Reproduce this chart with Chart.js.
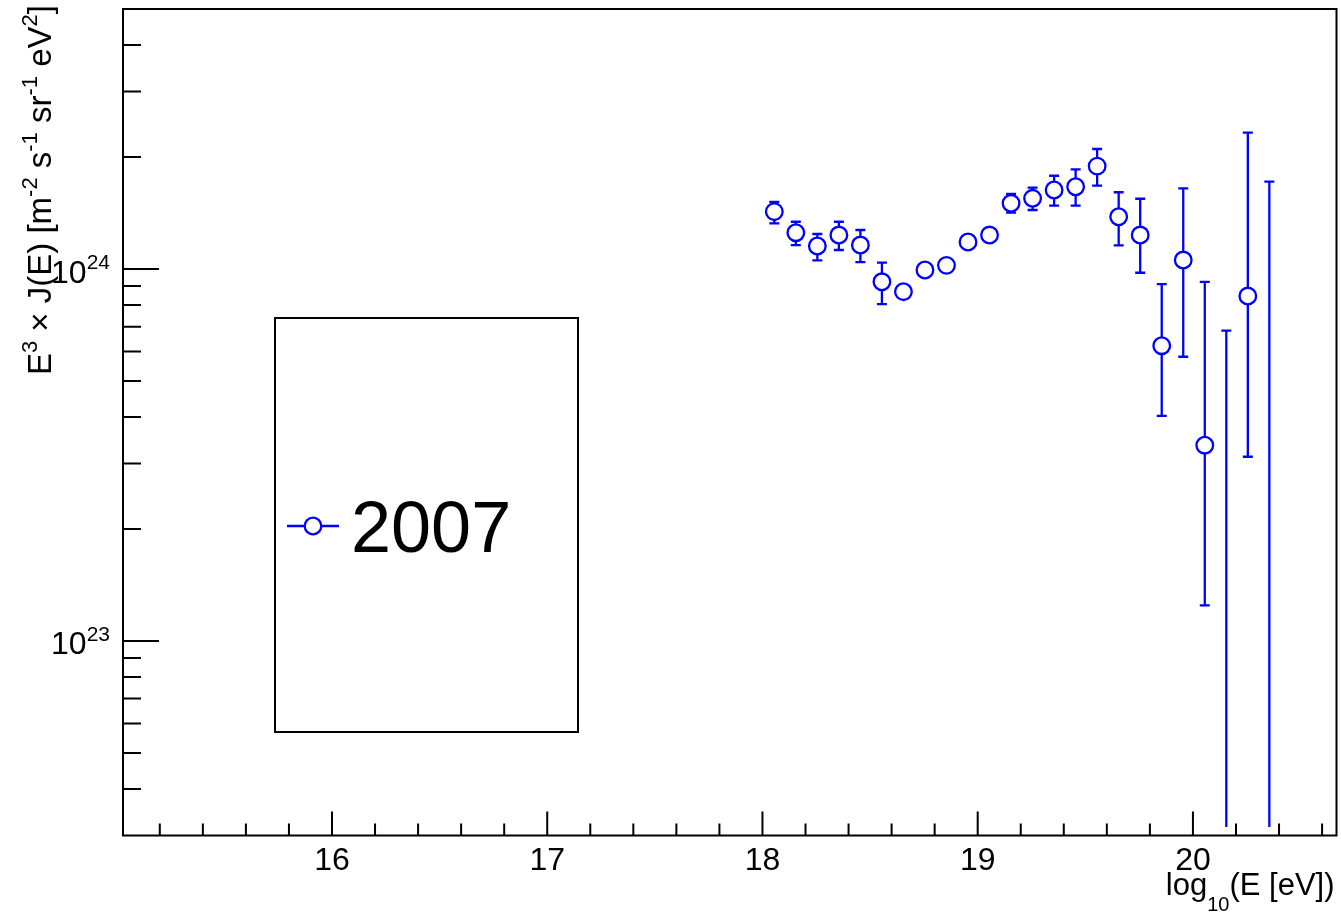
<!DOCTYPE html>
<html lang="en">
<head>
    <meta charset="UTF-8">
    <title>E^3 J(E) spectrum 2007</title>
    <script src="https://cdn.jsdelivr.net/npm/chart.js"></script>
    <style>
        html, body {
            margin: 0;
            padding: 0;
            background-color: #ffffff;
        }
        canvas {
            display: block;
        }
    </style>
</head>
<body>
    <canvas id="spectrumChart" width="1341" height="915"></canvas>
    <script>
        // bin centres, log10(E [eV])
        const logE = [18.055, 18.155, 18.255, 18.355, 18.455, 18.555, 18.655, 18.755,
                      18.855, 18.955, 19.055, 19.155, 19.255, 19.355, 19.455, 19.555,
                      19.655, 19.755, 19.855, 19.955, 20.055, 20.155, 20.255, 20.355];
        // E^3 J(E), null = no measured value (only the upper error bar shows)
        const flux = [1.426e24, 1.252e24, 1.153e24, 1.234e24, 1.160e24, 0.924e24, 0.869e24, 0.994e24,
                      1.023e24, 1.182e24, 1.234e24, 1.502e24, 1.549e24, 1.631e24, 1.664e24, 1.891e24,
                      1.382e24, 1.234e24, 0.622e24, 1.057e24, 0.336e24, null, 0.846e24, null];
        const fluxHi = [1.516e24, 1.340e24, 1.242e24, 1.340e24, 1.273e24, 1.040e24, 0.895e24, 1.024e24,
                        1.054e24, 1.217e24, 1.271e24, 1.591e24, 1.654e24, 1.781e24, 1.853e24, 2.102e24,
                        1.608e24, 1.545e24, 0.911e24, 1.648e24, 0.924e24, 0.683e24, 2.325e24, 1.717e24];
        const fluxLo = [1.327e24, 1.160e24, 1.055e24, 1.125e24, 1.044e24, 0.805e24, 0.843e24, 0.964e24,
                        0.992e24, 1.147e24, 1.197e24, 1.417e24, 1.441e24, 1.480e24, 1.480e24, 1.675e24,
                        1.158e24, 0.977e24, 0.403e24, 0.581e24, 0.1247e24, 3.16e22, 0.3128e24, 3.16e22];
        const seriesLabel = '2007';
        const xLabels = [16, 17, 18, 19, 20];
        const yDecades = [23, 24];

        const FONT = '"Liberation Sans", Arial, Helvetica, sans-serif';
        const BLUE = '#0000ff';

        // text pieces with superscripts (1) / subscripts (-1)
        function richWidth(ctx, parts, size) {
            let w = 0;
            parts.forEach(p => {
                ctx.font = (p[1] ? Math.round(size * 0.66) : size) + 'px ' + FONT;
                w += ctx.measureText(p[0]).width;
            });
            return w;
        }
        function drawRich(ctx, parts, x, y, size) {
            parts.forEach(p => {
                const s = p[1] ? Math.round(size * 0.66) : size;
                ctx.font = s + 'px ' + FONT;
                const dy = p[1] === 1 ? -size * 0.42 : (p[1] === -1 ? size * 0.5 : 0);
                ctx.fillText(p[0], x, y + dy);
                x += ctx.measureText(p[0]).width;
            });
        }

        const errorBars = {
            id: 'errorBars',
            beforeDatasetsDraw(chart) {
                const { ctx, chartArea: a, scales: { x, y } } = chart;
                ctx.save();
                ctx.beginPath();
                ctx.rect(a.left, a.top, a.right - a.left, a.bottom - a.top);
                ctx.clip();
                ctx.strokeStyle = BLUE;
                ctx.lineWidth = 2.3;
                logE.forEach((e, i) => {
                    const px = x.getPixelForValue(e);
                    const yh = y.getPixelForValue(fluxHi[i]);
                    const yl = y.getPixelForValue(fluxLo[i]);
                    ctx.beginPath();
                    ctx.moveTo(px, yh);
                    ctx.lineTo(px, yl);
                    ctx.moveTo(px - 5, yh);
                    ctx.lineTo(px + 5, yh);
                    if (flux[i] !== null) {
                        ctx.moveTo(px - 5, yl);
                        ctx.lineTo(px + 5, yl);
                    }
                    ctx.stroke();
                });
                ctx.restore();
            }
        };

        const rootFrame = {
            id: 'rootFrame',
            afterDatasetsDraw(chart) {
                const { ctx, chartArea: a, scales: { x, y } } = chart;
                ctx.save();
                ctx.strokeStyle = '#000';
                ctx.fillStyle = '#000';
                ctx.lineWidth = 2;
                ctx.strokeRect(a.left, a.top, a.right - a.left, a.bottom - a.top);

                // x ticks every 0.2, inward
                ctx.beginPath();
                for (let k = Math.ceil(x.min * 5); k <= Math.floor(x.max * 5); k++) {
                    const px = x.getPixelForValue(k / 5);
                    ctx.moveTo(px, a.bottom);
                    ctx.lineTo(px, a.bottom - (k % 5 === 0 ? 24 : 12));
                }
                // y log ticks
                for (let d = 22; d <= 24; d++) {
                    for (let m = 1; m <= 9; m++) {
                        const py = y.getPixelForValue(m * Math.pow(10, d));
                        if (py < a.top + 1 || py > a.bottom - 1) continue;
                        ctx.moveTo(a.left, py);
                        ctx.lineTo(a.left + (m === 1 ? 36 : 18), py);
                    }
                }
                ctx.stroke();

                // x labels
                ctx.font = '32px ' + FONT;
                ctx.textAlign = 'center';
                ctx.textBaseline = 'alphabetic';
                xLabels.forEach(v => {
                    ctx.fillText(String(v), x.getPixelForValue(v), 870);
                });

                // y labels 10^n
                ctx.textAlign = 'left';
                yDecades.forEach(d => {
                    const parts = [['10', 0], [String(d), 1]];
                    const w = richWidth(ctx, parts, 32);
                    const py = y.getPixelForValue(Math.pow(10, d));
                    drawRich(ctx, parts, 110 - w, py + 13.5, 32);
                });

                // x title
                const xt = [['log', 0], ['10', -1], ['(E [eV])', 0]];
                const xw = richWidth(ctx, xt, 31);
                drawRich(ctx, xt, a.right - xw - 2, 895, 31);

                // y title (rotated)
                const yt = [['E', 0], ['3', 1], [' \u00d7 J(E) [m', 0], ['-2', 1], [' s', 0], ['-1', 1],
                            [' sr', 0], ['-1', 1], [' eV', 0], ['2', 1], [']', 0]];
                const yw = richWidth(ctx, yt, 33);
                ctx.translate(51, 5);
                ctx.rotate(-Math.PI / 2);
                drawRich(ctx, yt, -yw, 0, 33);
                ctx.setTransform(1, 0, 0, 1, 0, 0);

                // legend box
                const ds = chart.data.datasets[0];
                ctx.lineWidth = 2;
                ctx.strokeStyle = '#000';
                ctx.strokeRect(275, 318, 303, 414);
                ctx.strokeStyle = ds.borderColor;
                ctx.lineWidth = 2.3;
                ctx.beginPath();
                ctx.moveTo(287, 526);
                ctx.lineTo(339, 526);
                ctx.stroke();
                ctx.beginPath();
                ctx.arc(313, 526, ds.pointRadius, 0, Math.PI * 2);
                ctx.fillStyle = '#fff';
                ctx.fill();
                ctx.stroke();
                ctx.fillStyle = '#000';
                ctx.font = '72px ' + FONT;
                ctx.textAlign = 'left';
                ctx.fillText(ds.label, 351, 552);
                ctx.restore();
            }
        };

        new Chart(document.getElementById('spectrumChart').getContext('2d'), {
            type: 'scatter',
            data: {
                datasets: [{
                    label: seriesLabel,
                    data: logE.map((e, i) => ({ x: e, y: flux[i] })),
                    borderColor: BLUE,
                    backgroundColor: '#ffffff',
                    pointRadius: 8.3,
                    pointHoverRadius: 8.3,
                    pointBorderWidth: 2.3,
                    showLine: false
                }]
            },
            options: {
                responsive: false,
                animation: false,
                events: [],
                layout: { autoPadding: false, padding: { left: 123, top: 9, right: 4.5, bottom: 79.5 } },
                plugins: {
                    legend: { display: false },
                    tooltip: { enabled: false }
                },
                scales: {
                    x: { type: 'linear', min: 15.029, max: 20.667, display: false },
                    y: { type: 'logarithmic', min: 3e22, max: 5e24, display: false }
                }
            },
            plugins: [errorBars, rootFrame]
        });
    </script>
</body>
</html>
